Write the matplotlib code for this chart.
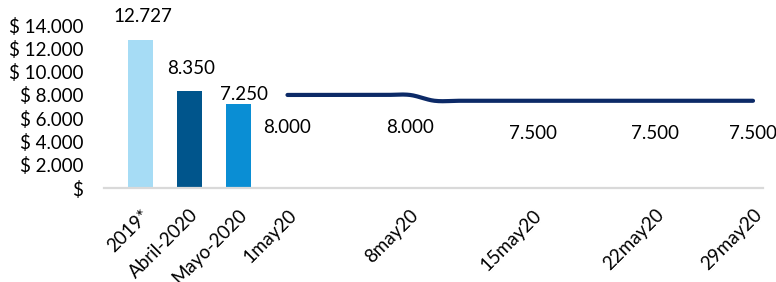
import numpy as np
import matplotlib
matplotlib.use('Agg')
import matplotlib.pyplot as plt

plt.rcParams['font.family'] = ['Lato', 'DejaVu Sans']

# ---- data ----
bar_categories = ['2019*', 'Abril-2020', 'Mayo-2020']
bar_values = [12727, 8350, 7250]

daily_dates = ['1may20', '4may20', '5may20', '6may20', '7may20', '8may20',
               '11may20', '12may20', '13may20', '14may20', '15may20',
               '18may20', '19may20', '20may20', '21may20', '22may20',
               '26may20', '27may20', '28may20', '29may20']
daily_values = [8000, 8000, 8000, 8000, 8000, 8000,
                7500, 7500, 7500, 7500, 7500,
                7500, 7500, 7500, 7500, 7500,
                7500, 7500, 7500, 7500]
labeled_dates = ['1may20', '8may20', '15may20', '22may20', '29may20']

y_ticks = [0, 2000, 4000, 6000, 8000, 10000, 12000, 14000]
y_tick_labels = ['$', '$ 2.000', '$ 4.000', '$ 6.000', '$ 8.000',
                 '$ 10.000', '$ 12.000', '$ 14.000']

# ---- style ----
bar_colors = ['#A6DCF5', '#00558C', '#0A8ED4']
line_color = '#0C2A67'
text_color = '#000000'
FS = 13.5


def fmt(v):
    return f"{v:,}".replace(',', '.')


def catmull_rom(x, y, n=24):
    x = np.asarray(x, float)
    y = np.asarray(y, float)
    xs, ys = [], []
    m = len(x)
    for i in range(m - 1):
        y0 = y[i - 1] if i > 0 else y[i]
        y3 = y[i + 2] if i + 2 < m else y[i + 1]
        m0 = (y[i + 1] - y0) / 2.0
        m1 = (y3 - y[i]) / 2.0
        t = np.linspace(0, 1, n, endpoint=(i == m - 2))
        h00 = 2 * t**3 - 3 * t**2 + 1
        h10 = t**3 - 2 * t**2 + t
        h01 = -2 * t**3 + 3 * t**2
        h11 = t**3 - t**2
        xs.append(x[i] + (x[i + 1] - x[i]) * t)
        ys.append(h00 * y[i] + h10 * m0 + h01 * y[i + 1] + h11 * m1)
    return np.concatenate(xs), np.concatenate(ys)


fig = plt.figure(figsize=(7.76, 2.82), dpi=100)
ax = fig.add_axes([0.134, 0.333, 0.849, 0.578])

bar_x = np.arange(len(bar_categories))
day_x = len(bar_categories) + 0.5 * np.arange(len(daily_dates))

ax.bar(bar_x, bar_values, width=0.51, color=bar_colors, zorder=2)
bar_offsets = [(2, 23), (1.5, 22), (6, 9)]
for xx, v, off in zip(bar_x, bar_values, bar_offsets):
    ax.annotate(fmt(v), (xx, v), xytext=off, textcoords='offset pixels',
                ha='center', va='center', fontsize=FS, color=text_color,
                annotation_clip=False)

sx, sy = catmull_rom(day_x, daily_values)
ax.plot(sx, sy, color=line_color, lw=3.0, solid_capstyle='round', zorder=3)

for d in labeled_dates:
    i = daily_dates.index(d)
    ax.annotate(fmt(daily_values[i]), (day_x[i], daily_values[i]),
                xytext=(0, -33), textcoords='offset pixels',
                ha='center', va='center', fontsize=FS, color=text_color,
                annotation_clip=False)

tick_pos = list(bar_x) + [day_x[daily_dates.index(d)] for d in labeled_dates]
tick_lab = bar_categories + labeled_dates
ax.set_xticks(tick_pos)
ax.set_xticklabels(tick_lab, rotation=45, ha='right', va='top',
                   rotation_mode='anchor', fontsize=FS, color=text_color)
ax.tick_params(axis='x', length=0, pad=13)

ax.set_yticks(y_ticks)
ax.set_yticklabels(y_tick_labels, fontsize=FS, color=text_color)
ax.tick_params(axis='y', length=0, pad=15)
ax.set_ylim(0, 14000)
ax.set_xlim(-0.745, 12.7)

for s in ['top', 'right', 'left']:
    ax.spines[s].set_visible(False)
ax.spines['bottom'].set_color('#D9D9D9')
ax.spines['bottom'].set_linewidth(1.6)

fig.savefig('out.png', dpi=100)
